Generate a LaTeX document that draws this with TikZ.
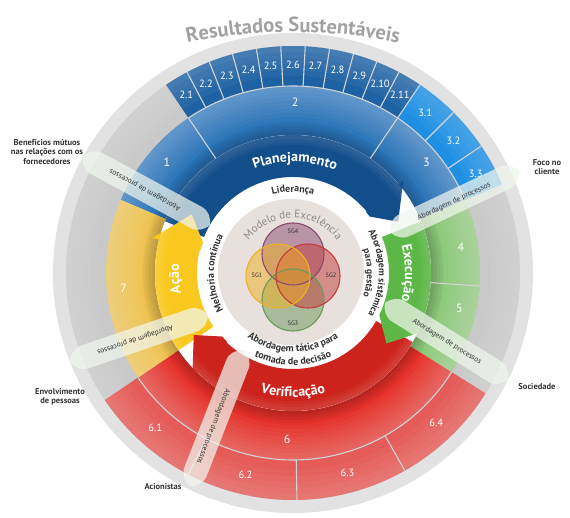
\documentclass[tikz,border=0pt]{standalone}
\usepackage{fontspec}
\setmainfont{PT Sans}
\usetikzlibrary{decorations.text}
\definecolor{ringlight}{HTML}{E2E2E2}
\definecolor{ringgrey}{HTML}{C9C9C9}
\definecolor{mblue}{HTML}{2A74B8}
\definecolor{sblue}{HTML}{1F62A3}
\definecolor{sbright}{HTML}{1F8FE3}
\definecolor{mgreen}{HTML}{8DC97A}
\definecolor{mred}{HTML}{E6312A}
\definecolor{sred}{HTML}{E45B57}
\definecolor{myellow}{HTML}{EEC250}
\definecolor{aplan}{HTML}{124E8A}
\definecolor{aexec}{HTML}{5CB747}
\definecolor{averif}{HTML}{CC231C}
\definecolor{aacao}{HTML}{F9C81E}
\definecolor{modelo}{HTML}{E7E0DD}
\definecolor{modelotxt}{HTML}{8C8C8C}
\definecolor{txtdark}{HTML}{333333}
\definecolor{resgrey}{HTML}{A2A2A2}
\definecolor{sepgrey}{HTML}{D0D4D7}
\definecolor{bandfill}{HTML}{F1F6EE}
\definecolor{sgone}{HTML}{F0B020}
\definecolor{sgtwo}{HTML}{C43C3C}
\definecolor{sgthree}{HTML}{6A9A5A}
\definecolor{sgfour}{HTML}{8A4A6E}
\newcommand\annsec[5]{\fill[#1] (#2:#4) arc[start angle=#2,end angle=#3,radius=#4] -- (#3:#5) arc[start angle=#3,end angle=#2,radius=#5] -- cycle;}
\newcommand\ringarrow[5]{\fill[#1] (#2:96) arc[start angle=#2,end angle=#3,radius=96] -- (#3:{96-#5}) -- (#4:117) -- (#3:{138+#5}) -- (#3:138) arc[start angle=#3,end angle=#2,radius=138] -- cycle;}
\newcommand\procband[6]{%
\begin{scope}[shift={(#2,#3)},rotate=#4]
\fill[bandfill,fill opacity=0.72] (0,0) .. controls (3,7) and (8,12) .. (16,12) -- ({#5-16},12) .. controls ({#5-8},12) and ({#5-3},7) .. (#5,0) .. controls ({#5-3},-7) and ({#5-8},-12) .. ({#5-16},-12) -- (16,-12) .. controls (8,-12) and (3,-7) .. (0,0) -- cycle;
\node[proctext,transform shape] (#1) at (#6,0) {Abordagem de processos};
\end{scope}}
\newcommand\fRes{\fontsize{20.5}{22}\selectfont\bfseries\color{resgrey}}
\newcommand\fArrow{\fontsize{14}{16}\selectfont\bfseries\color{white}}
\newcommand\fRing{\fontsize{10}{12}\selectfont\bfseries\color{txtdark}}
\newcommand\fRingS{\fontsize{9.5}{11}\selectfont\bfseries\color{txtdark}}
\newcommand\fModelo{\fontsize{11}{12}\selectfont\color{modelotxt}}
\tikzset{
 sublab/.style={text=white,font=\fontsize{10.5}{12}\selectfont,inner sep=0pt},
 mainlab/.style={text=white,font=\fontsize{12}{14}\selectfont,inner sep=0pt},
 sepline/.style={draw=sepgrey,line width=1.1pt},
 outlab/.style={text=txtdark,font=\fontsize{8.5}{9.5}\selectfont\bfseries,align=center,inner sep=0pt},
 proctext/.style={text=txtdark,font=\fontsize{7.5}{8}\selectfont,inner sep=0pt},
 sglab/.style={text=txtdark,font=\fontsize{6.3}{7}\selectfont,inner sep=0pt},
 vennc/.style={line width=1.2pt,fill opacity=0.5},
}
\begin{document}
\begin{tikzpicture}[x=1pt,y=1pt]
\useasboundingbox (0,0) rectangle (570,517);
\fill[white] (0,0) rectangle (570,517);
\begin{scope}[shift={(293,244)}]
% outer rings
\fill[ringlight] (0,0) circle[radius=240];
\fill[ringgrey] (0,0) circle[radius=227];
% sub items
\foreach \i in {1,...,11}{
  \pgfmathsetmacro\a{124-(\i-1)*68/11}
  \pgfmathsetmacro\b{124-\i*68/11}
  \annsec{sblue}{\a}{\b}{227}{187}
}
\foreach \i in {1,2,3}{
  \pgfmathsetmacro\a{56-(\i-1)*11}
  \pgfmathsetmacro\b{56-\i*11}
  \annsec{sbright}{\a}{\b}{227}{187}
}
\foreach \i in {1,...,4}{
  \pgfmathsetmacro\a{214+(\i-1)*28.5}
  \pgfmathsetmacro\b{214+\i*28.5}
  \annsec{sred}{\a}{\b}{227}{187}
}
\foreach \r in {197,203,...,221}{
  \fill[white,fill opacity=0.04,even odd rule] (0,0) circle[radius=227] (0,0) circle[radius=\r];
}
% main ring
\annsec{mblue}{124}{157}{187}{138}
\annsec{mblue}{56}{124}{187}{138}
\annsec{mblue}{23}{56}{187}{138}
\annsec{mgreen}{-4}{23}{187}{138}
\annsec{mgreen}{-32}{-4}{187}{138}
\annsec{mred}{214}{328}{187}{138}
\annsec{myellow}{157}{214}{187}{138}
\foreach \r in {152,156,...,184}{
  \fill[white,fill opacity=0.035,even odd rule] (0,0) circle[radius=187] (0,0) circle[radius=\r];
}
\foreach \r in {141,144,147,150}{
  \fill[black,fill opacity=0.05,even odd rule] (0,0) circle[radius=\r] (0,0) circle[radius=138];
}
% separators
\foreach \i in {1,...,10}{
  \pgfmathsetmacro\a{124-\i*68/11}
  \draw[sepline] (\a:187) -- (\a:227);
}
\foreach \a in {56,45,34,242.5,271,299.5}{
  \draw[sepline] (\a:187) -- (\a:227);
}
\draw[sepline] (124:187) arc[start angle=124,end angle=23,radius=187];
\draw[sepline] (214:187) arc[start angle=214,end angle=328,radius=187];
\foreach \a in {124,56,-4}{
  \draw[sepline] (\a:138) -- (\a:187);
}
% sub labels
\foreach \i in {1,...,11}{
  \pgfmathsetmacro\c{124-(\i-0.5)*68/11}
  \node[sublab] (s2-\i) at (\c:208) {2.\i};
}
\foreach \i in {1,2,3}{
  \pgfmathsetmacro\c{56-(\i-0.5)*11}
  \node[sublab] (s3-\i) at (\c:208) {3.\i};
}
\foreach \i in {1,...,4}{
  \pgfmathsetmacro\c{214+(\i-0.5)*28.5}
  \node[sublab] (s6-\i) at (\c:207) {6.\i};
}
% main labels
\node[mainlab] (m1) at (138.6:168) {1};
\node[mainlab] (m2) at (89.3:171) {2};
\node[mainlab] (m3) at (39.6:173) {3};
\node[mainlab] (m4) at (8.8:170) {4};
\node[mainlab] (m5) at (-11.9:170) {5};
\node[mainlab] (m6) at (268:166) {6};
\node[mainlab] (m7) at (185:170) {7};
% inner white
\fill[white] (0,0) circle[radius=138];
% cycle arrows
\ringarrow{aplan}{158}{40}{26}{6}
\ringarrow{aacao}{-146}{-194}{-210}{7}
\ringarrow{averif}{-30}{-134}{-148}{7}
\ringarrow{aexec}{22}{-26}{-37}{0}
\foreach \r in {128,131,134}{
  \fill[white,fill opacity=0.04,even odd rule] (0,0) circle[radius=138] (0,0) circle[radius=\r];
}
\fill[white] (0,0) circle[radius=95];
% modelo
\fill[modelo] (-2,1) circle[radius=73];
% venn
\fill[sgfour,vennc] (0,19) circle[radius=31];
\fill[sgthree,vennc] (0,-27) circle[radius=31];
\fill[sgtwo,vennc] (15,-3) circle[radius=32];
\fill[sgone,vennc] (-15,-3) circle[radius=32];
\draw[sgfour,line width=1.1pt] (0,19) circle[radius=31];
\draw[sgthree,line width=1.1pt] (0,-27) circle[radius=31];
\draw[sgtwo,line width=1.1pt] (15,-3) circle[radius=32];
\draw[sgone,line width=1.1pt] (-15,-3) circle[radius=32];
\node[sglab] (sg4) at (0,42) {SG4};
\node[sglab] (sg1) at (-36,-2) {SG1};
\node[sglab] (sg2) at (38,-2) {SG2};
\node[sglab] (sg3) at (0,-50) {SG3};
% curved texts
\path[decorate,decoration={text along path,text align=center,text={|\fModelo|Modelo de Excelência}}] (165:55) arc[start angle=165,end angle=15,radius=55];
\path[decorate,decoration={text along path,text align=center,text={|\fRing|Liderança}}] (150:81) arc[start angle=150,end angle=30,radius=81];
\path[decorate,decoration={text along path,text align=center,text={|\fRing|Melhoria contínua}}] (240:79) arc[start angle=240,end angle=120,radius=79];
\path[decorate,decoration={text along path,text align=center,text={|\fRingS|Abordagem sistêmica}}] (60:86) arc[start angle=60,end angle=-60,radius=86];
\path[decorate,decoration={text along path,text align=center,text={|\fRingS|para gestão}}] (60:74) arc[start angle=60,end angle=-60,radius=74];
\path[decorate,decoration={text along path,text align=center,text={|\fRing|Abordagem tática para}}] (200:79) arc[start angle=200,end angle=340,radius=79];
\path[decorate,decoration={text along path,text align=center,text={|\fRing|tomada de decisão}}] (205:92) arc[start angle=205,end angle=335,radius=92];
\path[decorate,decoration={text along path,text align=center,text={|\fArrow|Planejamento}}] (150:111) arc[start angle=150,end angle=28,radius=111];
\path[decorate,decoration={text along path,text align=center,text={|\fArrow|Execução}}] (50:112) arc[start angle=50,end angle=-50,radius=112];
\path[decorate,decoration={text along path,text align=center,text={|\fArrow|Verificação}}] (215:124) arc[start angle=215,end angle=325,radius=124];
\path[decorate,decoration={text along path,text align=center,text={|\fArrow|Ação}}] (233:114) arc[start angle=233,end angle=133,radius=114];
% process bands
\procband{pb1}{-83}{48}{151.5}{144.5}{74}
\procband{pb2}{97}{41}{25.3}{142.7}{71}
\procband{pb3}{92}{-30}{-32}{145}{73}
\procband{pb4}{-85}{-42}{198.8}{145.8}{77}
\procband{pb5}{-50}{-77}{248.7}{146}{82}
% outer labels
\node[outlab] (benef) at (-246,121) {Benefícios mútuos\\nas relações com os\\fornecedores};
\node[outlab] (foco) at (254,106) {Foco no\\cliente};
\node[outlab] (soc) at (244,-114) {Sociedade};
\node[outlab] (envol) at (-233,-124) {Envolvimento\\de pessoas};
\node[outlab] (acion) at (-130,-214) {Acionistas};
% title arc
\begin{scope}[shift={(0,-270)}]
\path[decorate,decoration={text along path,text align=center,text={|\fRes|Resultados Sustentáveis}}] (110:511) arc[start angle=110,end angle=70,radius=511];
\end{scope}
\end{scope}
\end{tikzpicture}
\end{document}
